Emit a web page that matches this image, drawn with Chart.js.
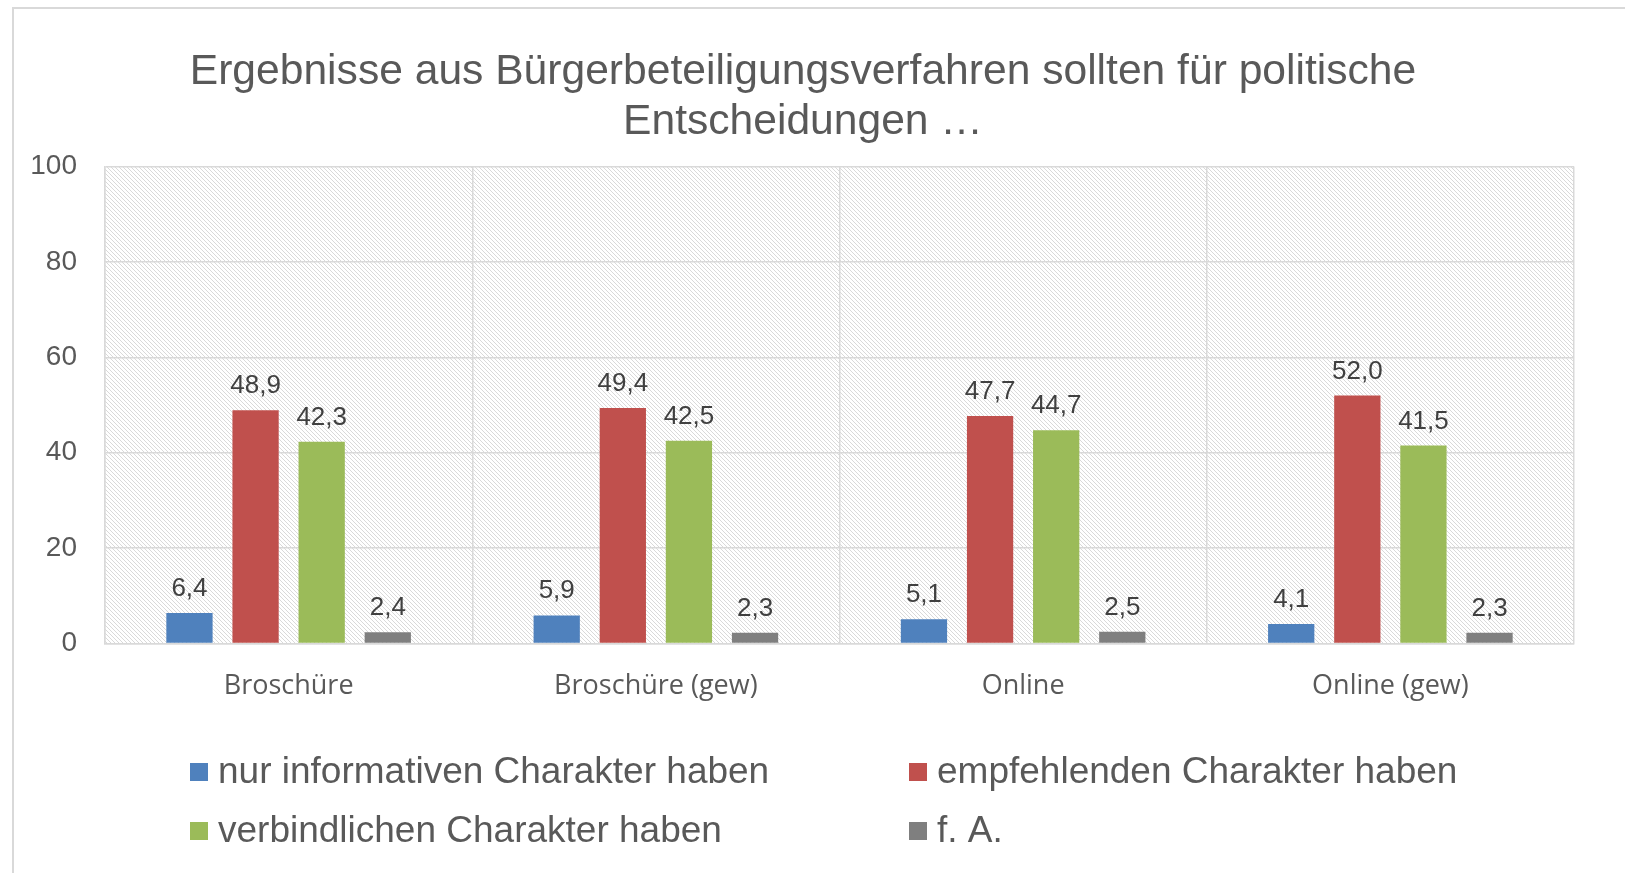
<!DOCTYPE html>
<html>
<head>
<meta charset="utf-8">
<script src="https://cdn.jsdelivr.net/npm/chart.js@4"></script>
<style>
  html, body { margin: 0; padding: 0; background: #fff; }
  #wrap { width: 1625px; height: 873px; }
</style>
</head>
<body>
<div id="wrap"><canvas id="chart" width="1625" height="873"></canvas></div>
<script>
const categories = ['Broschüre', 'Broschüre (gew)', 'Online', 'Online (gew)'];
const seriesNames = ['nur informativen Charakter haben', 'empfehlenden Charakter haben', 'verbindlichen Charakter haben', 'f. A.'];
const informativ = [6.4, 5.9, 5.1, 4.1];
const empfehlend = [48.9, 49.4, 47.7, 52.0];
const verbindlich = [42.3, 42.5, 44.7, 41.5];
const keineAngabe = [2.4, 2.3, 2.5, 2.3];
const yTicks = [0, 20, 40, 60, 80, 100];
const colors = ['#4f81bd', '#c0504d', '#9bbb59', '#7f7f7f'];

// hatch pattern for the plot background
function hatch() {
  const c = document.createElement('canvas');
  c.width = 4; c.height = 4;
  const g = c.getContext('2d');
  g.fillStyle = '#d9d9d9';
  for (let i = 0; i < 4; i++) g.fillRect(i, i, 1, 1);
  return g.createPattern(c, 'repeat');
}

const background = {
  id: 'background',
  beforeDraw(chart) {
    const { ctx, chartArea: a } = chart;
    ctx.save();
    ctx.fillStyle = '#fff';
    ctx.fillRect(0, 0, chart.width, chart.height);
    // outer frame (only top/left visible in the cutout)
    ctx.strokeStyle = '#d9d9d9';
    ctx.lineWidth = 2;
    ctx.strokeRect(13, 8, chart.width + 20, chart.height + 20);
    ctx.fillStyle = hatch();
    ctx.fillRect(a.left, a.top, a.right - a.left, a.bottom - a.top);
    ctx.restore();
  }
};

const valueLabels = {
  id: 'valueLabels',
  afterDatasetsDraw(chart) {
    const { ctx } = chart;
    ctx.save();
    ctx.font = '26px "Liberation Sans", Arial, sans-serif';
    ctx.fillStyle = '#404040';
    ctx.textAlign = 'center';
    ctx.textBaseline = 'alphabetic';
    chart.data.datasets.forEach((ds, i) => {
      chart.getDatasetMeta(i).data.forEach((bar, j) => {
        ctx.fillText(ds.data[j].toFixed(1).replace('.', ','), bar.x, bar.y - 17);
      });
    });
    ctx.restore();
  }
};

const legendGrid = {
  id: 'legendGrid',
  afterDraw(chart) {
    const { ctx } = chart;
    const cols = [190, 909], rows = [772, 831];
    ctx.save();
    ctx.font = '37px "Liberation Sans", Arial, sans-serif';
    ctx.textBaseline = 'middle';
    chart.data.datasets.forEach((ds, i) => {
      const x = cols[i % 2], y = rows[Math.floor(i / 2)];
      ctx.fillStyle = ds.backgroundColor;
      ctx.fillRect(x, y - 9, 18, 18);
      ctx.fillStyle = '#595959';
      ctx.fillText(ds.label, x + 28, y + 1);
    });
    ctx.restore();
  }
};

new Chart(document.getElementById('chart'), {
  type: 'bar',
  data: {
    labels: categories,
    datasets: [informativ, empfehlend, verbindlich, keineAngabe].map((d, i) => ({
      label: seriesNames[i],
      data: d,
      backgroundColor: colors[i],
      categoryPercentage: 0.72,
      barPercentage: 0.7
    }))
  },
  options: {
    responsive: false,
    animation: false,
    layout: { padding: { left: 32, right: 51, top: 0, bottom: 143 } },
    plugins: {
      legend: { display: false },
      tooltip: { enabled: false },
      title: {
        display: true,
        text: ['Ergebnisse aus Bürgerbeteiligungsverfahren sollten für politische', 'Entscheidungen …'],
        color: '#595959',
        font: { family: '"Liberation Sans", Arial, sans-serif', size: 42.6, weight: 'normal', lineHeight: 1.18 },
        padding: { top: 47, bottom: 19 }
      }
    },
    scales: {
      x: {
        grid: { color: '#d9d9d9', lineWidth: 1.5, drawTicks: false, offset: true },
        border: { color: '#d9d9d9', width: 1.5 },
        ticks: { color: '#595959', padding: 27, font: { family: '"Open Sans", sans-serif', size: 27 } }
      },
      y: {
        min: 0, max: 100,
        afterBuildTicks(axis) { axis.ticks = yTicks.map(v => ({ value: v })); },
        afterFit(axis) { axis.width = 73; },
        grid: { color: '#d9d9d9', lineWidth: 1.5, drawTicks: false },
        border: { color: '#d9d9d9', width: 1.5 },
        ticks: { color: '#595959', padding: 28, font: { family: '"Liberation Sans", Arial, sans-serif', size: 28 } }
      }
    }
  },
  plugins: [background, valueLabels, legendGrid]
});
</script>
</body>
</html>
